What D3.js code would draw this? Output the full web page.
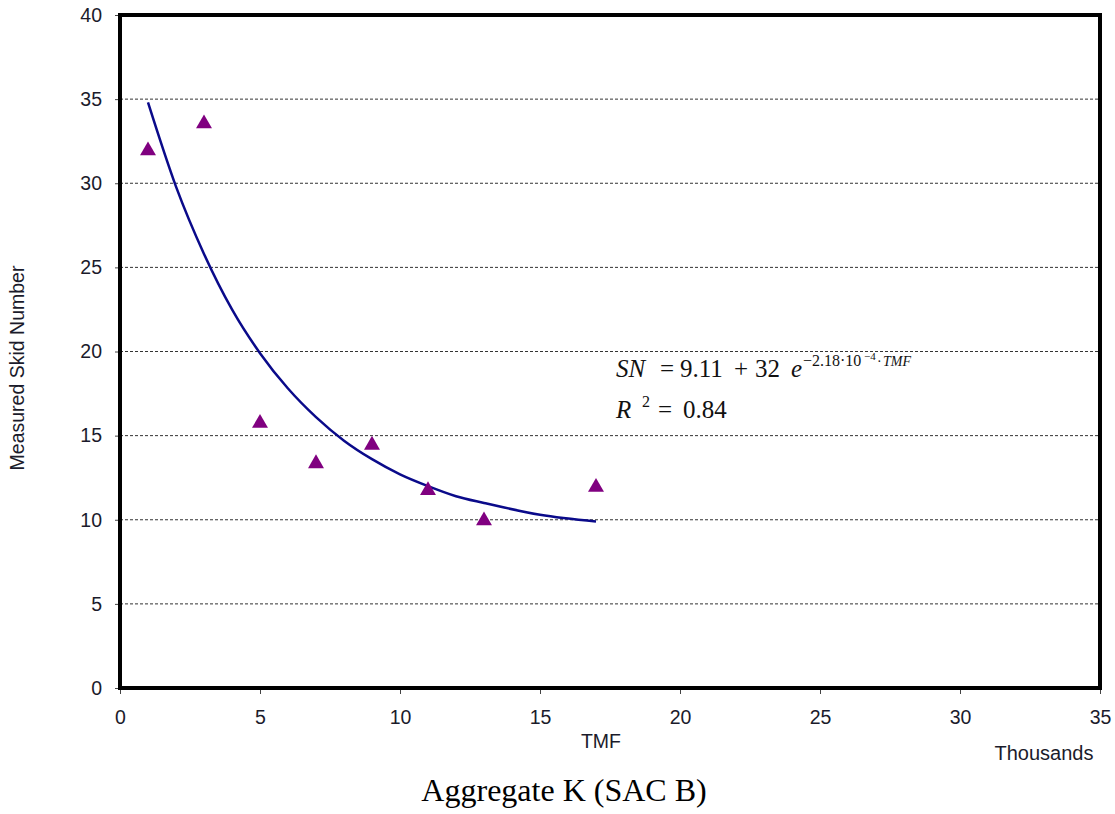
<!DOCTYPE html>
<html><head><meta charset="utf-8">
<script src="https://cdn.jsdelivr.net/npm/d3@7"></script>
<style>body{margin:0;background:#fff;}svg{display:block;}</style>
</head><body>
<svg id="c" width="1115" height="814"></svg>
<script>
const tmf = [1, 3, 5, 7, 9, 11, 13, 17];
const skid = [32, 33.6, 15.8, 13.4, 14.5, 11.8, 10, 12];
const fitTmf = [1, 2, 3, 4, 5, 6, 7, 8, 9, 10, 11, 12, 13, 15, 17];
const fitSN = [34.8, 29.8, 25.8, 22.5, 19.9, 17.8, 16.1, 14.7, 13.6, 12.7, 12.0, 11.4, 11.0, 10.3, 9.9];
const xTicks = [0, 5, 10, 15, 20, 25, 30, 35];
const yTicks = [0, 5, 10, 15, 20, 25, 30, 35, 40];

const svg = d3.select("#c");
const L = 120, R = 1100, T = 15, B = 688;
const x = d3.scaleLinear().domain([0, 35]).range([L, R]);
const y = d3.scaleLinear().domain([0, 40]).range([B, T]);
const txtColor = "#1b1b2b";
const sans = "Liberation Sans, Arial, sans-serif";
const serif = "Liberation Serif, Times New Roman, serif";

// gridlines
svg.append("g").selectAll("line").data(yTicks.filter(d => d > 0 && d < 40)).join("line")
  .attr("x1", L).attr("x2", R).attr("y1", d => y(d)).attr("y2", d => y(d))
  .attr("stroke", "#333").attr("stroke-width", 1).attr("stroke-dasharray", "3,2");

// axes
const ya = svg.append("g").attr("transform", `translate(${L},0)`)
  .call(d3.axisLeft(y).tickValues(yTicks).tickSize(5).tickPadding(13).tickFormat(d3.format("d")));
const xa = svg.append("g").attr("transform", `translate(0,${B})`)
  .call(d3.axisBottom(x).tickValues(xTicks).tickSize(6).tickPadding(16).tickFormat(d3.format("d")));
[ya, xa].forEach(a => {
  a.select(".domain").remove();
  a.selectAll("line").attr("stroke", "#444");
  a.selectAll("text").attr("font-family", sans).attr("font-size", 19.5).attr("fill", txtColor);
});

// frame
svg.append("rect").attr("x", L).attr("y", T).attr("width", R - L).attr("height", B - T)
  .attr("fill", "none").attr("stroke", "#000").attr("stroke-width", 4);

// fitted curve
svg.append("path").datum(fitTmf.map((t, i) => [t, fitSN[i]]))
  .attr("d", d3.line().x(d => x(d[0])).y(d => y(d[1])).curve(d3.curveMonotoneX))
  .attr("fill", "none").attr("stroke", "#0a0a8a").attr("stroke-width", 2.5);

// points
svg.append("g").selectAll("path").data(tmf.map((t, i) => [t, skid[i]])).join("path")
  .attr("transform", d => `translate(${x(d[0])},${y(d[1]) + 1})`)
  .attr("d", d3.symbol(d3.symbolTriangle, 110))
  .attr("fill", "#800080");

// equation
const eqParts = [
  {t: "SN", x: 616, y: 377, s: 25, i: true},
  {t: "=", x: 660, y: 377, s: 25},
  {t: "9.11", x: 680, y: 377, s: 25},
  {t: "+", x: 734, y: 377, s: 25},
  {t: "32", x: 755, y: 377, s: 25},
  {t: "e", x: 791, y: 377, s: 25, i: true},
  {t: "−2.18·10", x: 803, y: 366, s: 16},
  {t: "−4", x: 864, y: 360, s: 11},
  {t: "·", x: 877, y: 366, s: 14},
  {t: "TMF", x: 883, y: 366, s: 14, i: true},
  {t: "R", x: 616, y: 418, s: 25, i: true},
  {t: "2", x: 642, y: 407, s: 16},
  {t: "=", x: 658, y: 418, s: 25},
  {t: "0.84", x: 683, y: 418, s: 25}
];
svg.append("g").selectAll("text").data(eqParts).join("text")
  .attr("x", d => d.x).attr("y", d => d.y)
  .attr("font-family", serif).attr("font-size", d => d.s)
  .attr("font-style", d => d.i ? "italic" : "normal")
  .attr("fill", "#111").text(d => d.t);

// axis titles
svg.append("text").attr("transform", "translate(24,368) rotate(-90)").attr("text-anchor", "middle")
  .attr("font-family", sans).attr("font-size", 19.5).attr("fill", txtColor)
  .text("Measured Skid Number");
svg.append("text").attr("x", 601).attr("y", 748).attr("text-anchor", "middle")
  .attr("font-family", sans).attr("font-size", 19.5).attr("fill", txtColor).text("TMF");
svg.append("text").attr("x", 1044).attr("y", 760).attr("text-anchor", "middle")
  .attr("font-family", sans).attr("font-size", 20).attr("fill", txtColor).text("Thousands");
svg.append("text").attr("x", 564).attr("y", 801).attr("text-anchor", "middle")
  .attr("font-family", serif).attr("font-size", 32).attr("fill", "#000")
  .text("Aggregate K (SAC B)");
</script>
</body></html>
